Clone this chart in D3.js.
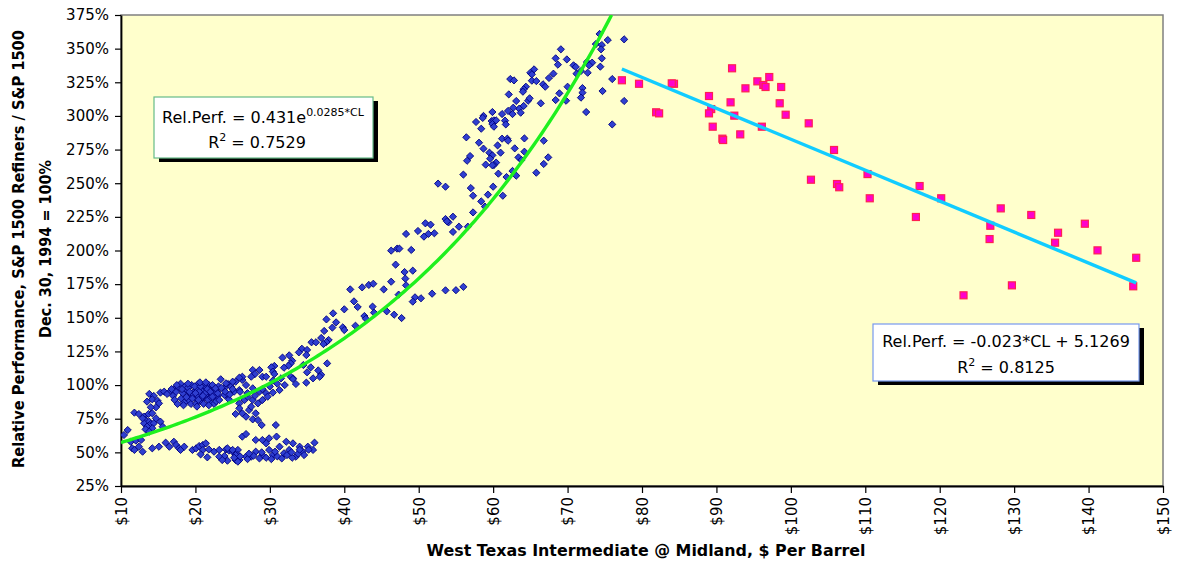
<!DOCTYPE html>
<html>
<head>
<meta charset="utf-8">
<script src="https://cdn.jsdelivr.net/npm/d3@7"></script>
<style>
body{margin:0;background:#fff;}
svg text{font-family:"DejaVu Sans",sans-serif;fill:#000;}
</style>
</head>
<body>
<script>
// [WTI $/bbl, relative performance %]
// blue series, low oil price band (~$10-$36, 45-65%)
var lowBand = [[10.4,62.9],[10.9,66.6],[11.3,57.9],[12.0,58.7],[12.7,59.2],[11.5,53.0],[11.8,51.8],[12.4,54.2],[12.9,50.5],[14.2,53.0],[15.1,54.2],[16.0,57.2],[16.5,54.2],[17.1,57.9],[17.4,55.5],[17.8,53.0],[18.0,51.8],[18.5,54.2],[19.6,51.8],[20.1,53.0],[20.5,54.7],[21.0,55.5],[21.4,56.7],[21.0,51.8],[21.8,52.2],[22.5,50.5],[23.2,51.8],[24.1,52.2],[24.5,51.3],[23.9,47.3],[25.0,50.5],[25.7,51.8],[20.7,48.5],[21.6,46.3],[23.2,46.8],[24.3,43.8],[25.4,44.3],[25.7,48.0],
  [24.3,53.0],[25.0,51.8],[25.4,48.0],[25.9,44.3],[26.8,46.8],[27.5,46.8],[28.1,50.5],[29.0,48.0],[29.9,51.8],[30.4,48.0],[31.3,54.2],[31.9,49.3],[32.6,51.8],[33.5,46.8],[34.4,50.5],[35.1,54.2],[36.0,57.2],[35.8,51.8],[26.3,61.7],[26.8,63.6],[28.1,59.2],[29.0,59.2],[29.5,56.7],[29.9,60.4],[30.9,61.7],[32.2,57.9],[33.1,56.7],[34.0,54.2],[23.6,44.3],[25.7,43.1],
  [26.0,47],[27.0,45],[27.8,47.5],[28.6,45.5],[29.5,46],[30.2,45],[31.0,47],[31.6,45.5],[32.3,48],[33.0,46],[33.8,49],[34.6,48],[35.2,52],[27.2,49],[28.9,50],[30.7,50.5],[32.9,50],[34.0,52],[25.2,46]];

// blue series, left clusters 65-100%
var leftCluster = [[11.8,79.5],[12.4,78.5],[13.1,76.5],[13.7,78.5],[14.2,79.0],[13.3,74.0],[13.8,72.8],[13.1,71.6],[14.0,71.1],[14.4,71.6],[13.5,69.1],[14.2,67.9],[13.3,67.1],[15.3,72.8],[15.6,69.1],[12.9,75.3],[14.7,75.3],[13.8,65.4],
  [13.8,93.4],[14.4,91.9],[15.3,94.4],[15.8,95.1],[16.2,93.4],[13.5,87.7],[14.2,89.4],[14.9,88.4],[15.1,86.4],[14.7,83.5],[14.0,83.5],[16.7,95.8],[17.1,96.8]];

// blue series, dense block around $17-$23, ~85-100%
var denseBlock = [[17.0,92],[17.4,95],[17.8,98],[18.1,90],[18.3,94],[18.6,99],[18.9,96],[19.1,88],[19.3,92],[19.5,100],[19.8,95],[20.0,90],[20.2,97],[20.4,101],[20.6,93],[20.8,88],[21.0,96],[21.2,99],[21.4,91],[21.6,94],[21.8,100],[22.0,87],[22.2,93],[22.4,97],[22.6,90],[22.9,95],[23.1,99],[17.2,89],[17.6,86],[18.0,101],[18.5,87],[18.8,91],[19.0,98],[19.4,86],[19.7,93],[19.9,99],[20.1,86],[20.3,92],[20.5,95],[20.7,99],[20.9,91],[21.1,86],[21.3,94],[21.5,98],[21.7,89],[21.9,96],[22.1,91],[22.3,100],[22.5,86],[22.7,94],[23.0,92],[16.8,97],[18.2,97],[19.2,95],[19.6,90],[20.0,94],[20.4,89],[21.0,92],[21.6,97],[22.0,95],[22.8,88],[17.5,100],[19.0,101],[20.6,102],[21.4,102],[18.4,85],[20.2,84],[21.8,85]];

// blue series, $22-$36 around 70-105%
var midBlock = [[23.4,104.3],[24.4,100.8],[25.4,102.5],[23.0,93.9],[23.9,97.6],[24.8,98.8],[24.1,92.6],[25.2,95.1],[25.9,96.3],[22.7,97.6],[24.1,101.3],[25.0,102.5],[26.3,103.8],[26.8,100.0],[27.7,97.6],[28.6,95.1],[29.5,93.9],[25.9,86.4],[26.6,88.9],[27.0,91.4],[27.7,88.9],[28.4,86.4],[29.0,88.9],[29.7,91.4],[30.4,94.4],[31.3,96.3],[30.4,103.3],[31.5,105.0],[33.1,105.0],[33.5,100.8],[34.9,101.8],[35.8,105.0],[22.3,91.4],[23.2,88.9],[23.9,92.6],[24.5,89.4],[24.0,95],[25.0,97],[26.0,95],[27.0,94],[28.0,92],[29.0,97],[30.0,99],[31.0,101],[32.0,100],[23.5,98],[24.6,93],
  [25.4,78.5],[26.3,79.0],[26.8,76.5],[27.7,74.5],[28.4,74.0],[28.9,70.3],[30.8,70.3],[25.9,82.7],[27.2,81.5],[28.1,79.0],[27.5,84.0]];

// blue series, rising arm $25-$56
var risingArm = [[46.3,199.9],[47.1,201.4],[47.4,201.4],[49.0,200.4],[46.9,189.5],[48.1,184.0],[49.2,185.0],[48.2,179.1],[46.3,176.8],[48.3,174.1],[43.3,174.4],[43.9,175.3],[42.4,172.6],[40.8,171.1],[45.3,171.1],[47.3,167.2],[49.5,165.2],[49.2,162.0],[50.3,164.5],[51.8,167.9],[53.6,170.4],[41.3,162.2],[41.8,158.0],[43.8,158.3],[44.0,153.8],[40.0,156.3],[38.5,153.3],[37.6,148.8],[38.9,146.6],[42.7,151.3],[42.9,149.3],[46.7,152.3],[47.7,149.8],[45.7,154.8],[41.5,144.1],[39.8,142.9],[40.0,140.9],[38.4,142.7],[37.3,140.2],[36.9,135.0],[37.9,133.5],[37.6,132.0],[37.2,130.5],[35.6,131.8],[36.2,131.8],[34.3,127.0],[33.9,124.3],[35.0,126.1],[34.9,122.3],[32.6,122.1],[31.7,120.4],[33.0,118.1],[32.8,116.1],[32.5,114.4],[31.9,112.9],[37.7,116.1],[35.5,113.2],[35.0,109.5],[36.5,110.9],[36.9,107.7],[36.7,106.2],[30.6,114.2],[30.2,113.2],[30.4,110.0],[30.6,108.2],[28.6,111.2],[27.7,111.2],[28.0,108.2],[27.5,106.2],[29.0,106.2],[29.5,106.2],[26.3,106.2],[25.9,105.5],[32.8,106.2],[33.1,104.5],[34.5,114.9],[55.0,170.5],[56.0,173.0]];

// blue series, upper arm $48-$78
var upperArm = [[74.3,360.9],[75.4,356.4],[77.6,356.9],[73.8,353.4],[74.6,352.7],[74.5,349.5],[69.1,349.5],[68.4,342.8],[69.9,342.0],[74.6,342.8],[68.7,338.1],[70.8,337.6],[71.1,336.4],[72.6,340.1],[73.3,339.6],[72.9,337.6],[74.4,336.6],[65.5,334.6],[65.0,332.1],[65.2,330.9],[68.1,331.4],[67.5,328.2],[71.8,333.4],[71.2,331.4],[72.7,332.1],[62.3,327.4],[62.8,326.4],[65.2,326.2],[65.8,325.9],[64.4,321.7],[64.1,319.8],[64.0,318.0],[66.7,323.5],[67.0,321.7],[76.0,327.4],[72.0,320.7],[72.0,317.3],[74.7,318.5],[71.8,313.6],[68.4,311.8],[68.9,316.8],[70.0,321.7],[69.8,311.3],[62.1,316.0],[63.1,311.1],[64.7,311.3],[64.9,313.1],[66.4,309.4],[64.1,307.4],[63.5,305.4],[62.7,306.1],[62.0,303.7],[61.2,301.4],[62.6,301.4],[63.7,302.4],[59.9,302.9],[58.7,300.0],[58.6,298.5],[57.7,295.5],[58.4,290.5],[59.8,296.2],[60.1,296.7],[60.4,296.7],[59.9,294.0],[60.1,292.0],[61.6,296.5],[61.7,293.7],[77.6,311.1],[72.5,302.9],[76.0,293.7],[56.4,284.1],[58.1,280.1],[61.2,283.1],[61.9,283.1],[62.0,281.6],[64.2,283.3],[60.6,278.1],[58.7,275.7],[56.9,270.2],[56.5,266.7],[59.5,272.7],[59.9,270.7],[61.0,272.7],[59.6,268.2],[62.9,275.9],[64.2,273.4],[63.4,269.2],[63.8,267.2],[66.8,281.6],[67.4,269.2],[66.8,264.3],[65.8,257.8],[60.4,265.3],[60.1,263.5],[59.9,263.3],[59.0,263.8],[60.7,257.1],[61.8,254.6],[62.6,259.1],[63.1,255.6],[56.0,256.4],[52.6,249.7],[53.6,247.4],[57.0,246.4],[60.0,247.4],[57.3,240.7],[59.3,241.5],[61.3,240.7],[58.4,236.5],[58.9,232.6],[57.3,228.3],[53.6,223.4],[54.6,225.1],[54.0,220.9],[53.8,221.7],[50.9,220.2],[51.6,219.2],[55.4,217.7],[56.6,217.7],[49.9,214.5],[48.3,212.3],[51.3,212.3],[52.1,212.8],[54.6,213.8],[50.7,210.3]];

// pink series, oil above $77
var highOil = [[77.3,326.5],[79.6,323.9],[84.3,323.9],[84.0,324.2],[92.1,335.4],[95.5,325.7],[96.3,323.0],[96.6,321.5],[97.1,328.9],[93.9,320.5],[98.7,321.5],[89.0,314.8],[91.9,310.1],[98.5,309.4],[81.9,302.7],[82.3,301.9],[89.3,305.1],[89.0,301.9],[92.4,300.2],[99.3,300.9],[89.5,292.0],[96.1,292.0],[102.4,294.5],[90.8,283.1],[90.9,282.1],[93.2,286.3],[105.8,274.7],[102.7,252.6],[106.2,249.4],[106.5,247.0],[110.3,256.8],[110.6,238.8],[116.8,224.9],[117.3,247.9],[120.2,238.8],[128.2,231.3],[132.3,226.4],[126.8,218.4],[126.7,208.5],[135.9,213.2],[135.5,205.8],[139.5,219.9],[141.2,200.1],[146.4,194.6],[146.0,173.4],[129.7,174.1],[123.2,166.7]];

var xTicks = d3.range(10, 151, 10);
var yTicks = d3.range(25, 376, 25);

// trendlines as printed in the chart
var expFit = {a: 0.431, b: 0.0285};
var linFit = {m: -0.023, c: 5.1269};

var W = 1177, H = 563;
var svg = d3.select("body").append("svg").attr("width", W).attr("height", H);

var x = d3.scaleLinear().domain([10, 150]).range([121, 1163]);
var y = d3.scaleLinear().domain([25, 375]).range([486, 15]);

svg.append("defs").append("clipPath").attr("id", "plot")
  .append("rect").attr("x", x(10)).attr("y", y(375))
  .attr("width", x(150) - x(10)).attr("height", y(25) - y(375));

svg.append("rect")
  .attr("x", x(10)).attr("y", y(375))
  .attr("width", x(150) - x(10)).attr("height", y(25) - y(375))
  .attr("fill", "#FFFFCC").attr("stroke", "#808080").attr("stroke-width", 1.5);

// axes
var yAxis = svg.append("g").attr("transform", "translate(" + x(10) + ",0)")
  .call(d3.axisLeft(y).tickValues(yTicks).tickFormat(function(d){ return d + "%"; })
    .tickSize(6).tickSizeOuter(0).tickPadding(6));
yAxis.selectAll("text").style("font-size", "15px").style("font-family", "DejaVu Sans");
yAxis.selectAll("line").attr("stroke", "#000").attr("stroke-width", 1.2);
yAxis.select(".domain").attr("stroke", "#000").attr("stroke-width", 1.8);

var xAxis = svg.append("g").attr("transform", "translate(0," + y(25) + ")")
  .call(d3.axisBottom(x).tickValues(xTicks).tickFormat(function(d){ return "$" + d; })
    .tickSize(7).tickSizeOuter(0));
xAxis.selectAll("text")
  .attr("transform", "rotate(-90)")
  .attr("x", -11).attr("y", 0).attr("dy", "0.36em")
  .style("text-anchor", "end").style("font-size", "15px").style("font-family", "DejaVu Sans");
xAxis.selectAll("line").attr("stroke", "#000").attr("stroke-width", 1.2);
xAxis.select(".domain").attr("stroke", "#000").attr("stroke-width", 1.8);

// titles
svg.append("text").attr("x", 646).attr("y", 556).attr("text-anchor", "middle")
  .attr("font-weight", "bold").attr("font-size", 15)
  .attr("textLength", 439).attr("lengthAdjust", "spacingAndGlyphs")
  .text("West Texas Intermediate @ Midland, $ Per Barrel");

svg.append("text").attr("transform", "translate(24,249) rotate(-90)").attr("text-anchor", "middle")
  .attr("font-weight", "bold").attr("font-size", 15)
  .attr("textLength", 438).attr("lengthAdjust", "spacingAndGlyphs")
  .text("Relative Performance, S&P 1500 Refiners / S&P 1500");
svg.append("text").attr("transform", "translate(51,249) rotate(-90)").attr("text-anchor", "middle")
  .attr("font-weight", "bold").attr("font-size", 15)
  .attr("textLength", 178).attr("lengthAdjust", "spacingAndGlyphs")
  .text("Dec. 30, 1994 = 100%");

// points
var plot = svg.append("g").attr("clip-path", "url(#plot)");
var blue = lowBand.concat(leftCluster, denseBlock, midBlock, risingArm, upperArm);

plot.selectAll("path.wti").data(blue).enter().append("path")
  .attr("class", "wti")
  .attr("d", "M0,-3.6L3.6,0L0,3.6L-3.6,0Z")
  .attr("transform", function(d){ return "translate(" + x(d[0]) + "," + y(d[1]) + ")"; })
  .attr("fill", "#2F3FD0").attr("stroke", "#000080").attr("stroke-width", 0.9);

plot.selectAll("rect.hi").data(highOil).enter().append("rect")
  .attr("class", "hi")
  .attr("x", function(d){ return x(d[0]) - 3.5; })
  .attr("y", function(d){ return y(d[1]) - 3.5; })
  .attr("width", 7).attr("height", 7)
  .attr("fill", "#FF00CC").attr("stroke", "#FF2050").attr("stroke-width", 1.2);

// trendlines
var xEnd = Math.log(3.75 / expFit.a) / expFit.b;
var expPts = d3.range(10, xEnd, 0.5).concat([xEnd]).map(function(v){
  return [v, 100 * expFit.a * Math.exp(expFit.b * v)];
});
var line = d3.line().x(function(d){ return x(d[0]); }).y(function(d){ return y(d[1]); });
plot.append("path").datum(expPts).attr("d", line)
  .attr("fill", "none").attr("stroke", "#1EF01E").attr("stroke-width", 3.4);

var hx = d3.extent(highOil, function(d){ return d[0]; });
var linPts = hx.map(function(v){ return [v, 100 * (linFit.m * v + linFit.c)]; });
plot.append("path").datum(linPts).attr("d", line)
  .attr("fill", "none").attr("stroke", "#11CCFF").attr("stroke-width", 3.4);

// equation boxes
function eqBox(bx, by, bw, bh, border) {
  svg.append("rect").attr("x", bx + 5).attr("y", by + 4).attr("width", bw).attr("height", bh).attr("fill", "#000");
  svg.append("rect").attr("x", bx).attr("y", by).attr("width", bw).attr("height", bh)
    .attr("fill", "#fff").attr("stroke", border).attr("stroke-width", 1.2);
}
eqBox(154, 97, 219, 61, "#66BB88");
eqBox(873, 324, 266, 57, "#7799EE");

var t1 = svg.append("text").attr("x", 263).attr("y", 123).attr("text-anchor", "middle").attr("font-size", 16);
t1.append("tspan").text("Rel.Perf. = 0.431e");
t1.append("tspan").attr("font-size", 11).attr("dy", -7).text("0.0285*CL");
var t2 = svg.append("text").attr("x", 257).attr("y", 148).attr("text-anchor", "middle").attr("font-size", 16);
t2.append("tspan").text("R");
t2.append("tspan").attr("font-size", 11).attr("dy", -7).text("2");
t2.append("tspan").attr("dy", 7).text(" = 0.7529");

svg.append("text").attr("x", 1006).attr("y", 347).attr("text-anchor", "middle").attr("font-size", 16)
  .text("Rel.Perf. = -0.023*CL + 5.1269");
var t4 = svg.append("text").attr("x", 1006).attr("y", 373).attr("text-anchor", "middle").attr("font-size", 16);
t4.append("tspan").text("R");
t4.append("tspan").attr("font-size", 11).attr("dy", -7).text("2");
t4.append("tspan").attr("dy", 7).text(" = 0.8125");
</script>
</body>
</html>
